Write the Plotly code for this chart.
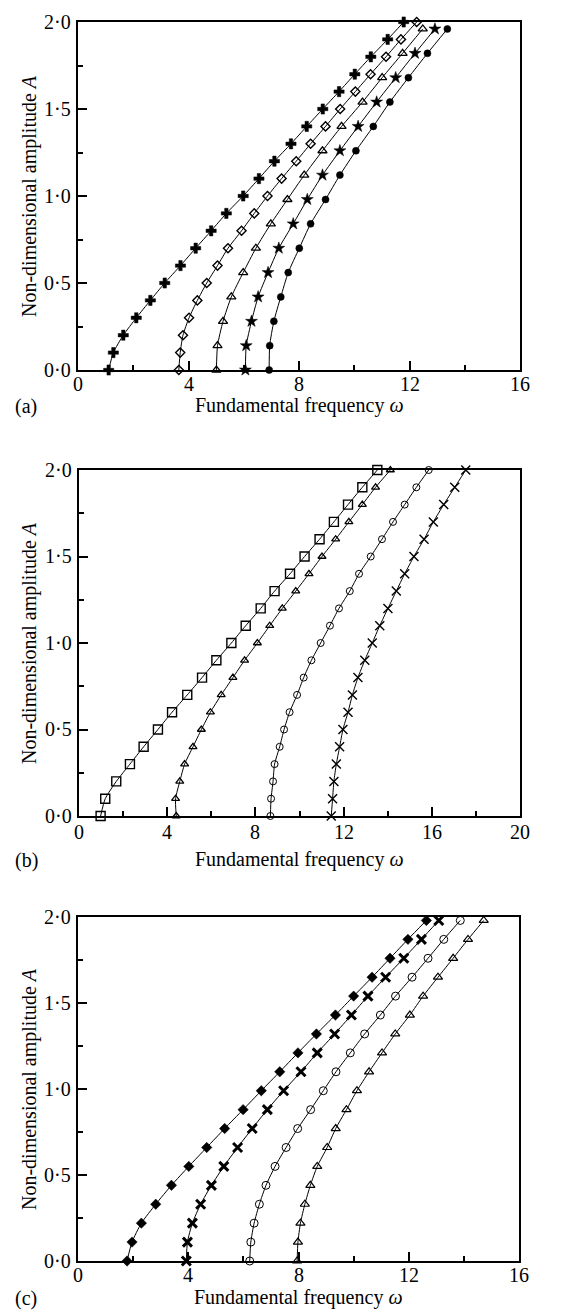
import plotly.graph_objects as go

# ---------------- Data ----------------
# Panel (a)
a_amp_01 = [0.0, 0.1, 0.2, 0.3, 0.4, 0.5, 0.6, 0.7, 0.8, 0.9, 1.0,
            1.1, 1.2, 1.3, 1.4, 1.5, 1.6, 1.7, 1.8, 1.9, 2.0]
a_amp_014 = [0.0, 0.14, 0.28, 0.42, 0.56, 0.70, 0.84, 0.98, 1.12,
             1.26, 1.40, 1.54, 1.68, 1.82, 1.96]
a_plus = [1.11, 1.28, 1.64, 2.11, 2.62, 3.14, 3.71, 4.26, 4.82, 5.37, 5.98,
          6.55, 7.11, 7.71, 8.28, 8.86, 9.45, 10.02, 10.60, 11.21, 11.79]
a_diamond = [3.65, 3.70, 3.80, 4.02, 4.32, 4.66, 5.05, 5.43, 5.92, 6.38, 6.86,
             7.37, 7.90, 8.42, 8.96, 9.49, 10.04, 10.59, 11.15, 11.69, 12.26]
a_triangle = [5.01, 5.05, 5.25, 5.55, 5.98, 6.44, 6.98, 7.58, 8.19, 8.85,
              9.54, 10.30, 11.01, 11.75, 12.48]
a_star = [6.06, 6.09, 6.28, 6.52, 6.88, 7.27, 7.79, 8.30, 8.85, 9.48,
          10.14, 10.81, 11.50, 12.20, 12.92]
a_circle = [6.92, 6.94, 7.09, 7.34, 7.61, 8.01, 8.42, 8.96, 9.48, 10.06,
            10.69, 11.29, 11.96, 12.65, 13.37]

# Panel (b)
b_amp = [0.0, 0.1, 0.2, 0.3, 0.4, 0.5, 0.6, 0.7, 0.8, 0.9, 1.0,
         1.1, 1.2, 1.3, 1.4, 1.5, 1.6, 1.7, 1.8, 1.9, 2.0]
b_square = [0.98, 1.19, 1.69, 2.31, 2.93, 3.58, 4.22, 4.91, 5.58, 6.23, 6.91,
            7.56, 8.24, 8.87, 9.57, 10.23, 10.91, 11.56, 12.20, 12.85, 13.53]
b_triangle = [4.41, 4.38, 4.57, 4.79, 5.17, 5.55, 5.96, 6.45, 6.98, 7.51, 8.09,
              8.65, 9.22, 9.83, 10.43, 11.02, 11.64, 12.24, 12.85, 13.45, 14.12]
b_circle = [8.68, 8.71, 8.80, 8.87, 9.10, 9.30, 9.55, 9.89, 10.19, 10.54, 10.96,
            11.38, 11.79, 12.28, 12.70, 13.23, 13.74, 14.24, 14.77, 15.30, 15.86]
b_cross = [11.44, 11.50, 11.56, 11.67, 11.82, 11.97, 12.20, 12.40, 12.65, 12.96,
           13.30, 13.64, 14.01, 14.39, 14.77, 15.19, 15.65, 16.07, 16.54, 17.04, 17.54]

# Panel (c)
c_amp = [0.0, 0.11, 0.22, 0.33, 0.44, 0.55, 0.66, 0.77, 0.88, 0.99,
         1.10, 1.21, 1.32, 1.43, 1.54, 1.65, 1.76, 1.87, 1.98]
c_diamond = [1.78, 1.96, 2.30, 2.82, 3.39, 4.02, 4.67, 5.32, 5.99, 6.65,
             7.32, 7.98, 8.65, 9.34, 10.00, 10.67, 11.32, 11.97, 12.64]
c_cross = [3.93, 3.97, 4.15, 4.45, 4.84, 5.29, 5.79, 6.32, 6.87, 7.46,
           8.09, 8.68, 9.31, 9.92, 10.52, 11.16, 11.82, 12.46, 13.09]
c_circle = [6.23, 6.27, 6.39, 6.58, 6.82, 7.15, 7.55, 7.97, 8.44, 8.90,
            9.36, 9.88, 10.40, 10.97, 11.52, 12.12, 12.70, 13.27, 13.87]
c_triangle = [7.95, 7.98, 8.07, 8.23, 8.43, 8.68, 9.04, 9.35, 9.74, 10.12,
              10.56, 11.03, 11.51, 12.04, 12.52, 13.06, 13.61, 14.15, 14.72]

y_tickvals = [0, 0.5, 1.0, 1.5, 2.0]
y_ticktext = ["0·0", "0·5", "1·0", "1·5", "2·0"]
xa_ticks = [0, 4, 8, 12, 16]
xb_ticks = [0, 4, 8, 12, 16, 20]
panel_labels = ["(a)", "(b)", "(c)"]
x_title = "Fundamental frequency <i>ω</i>"
y_title = "Non-dimensional amplitude <i>A</i>"

# ---------------- Figure ----------------
W, H = 562, 1312
FONT = "Liberation Serif"
TFONT = dict(family=FONT, size=20, color="black")
fig = go.Figure()


def add_series(x, y, xa, ya, symbol, size, lw=1.3):
    marker = dict(symbol=symbol, size=size, color="black",
                  line=dict(color="black", width=lw))
    fig.add_trace(go.Scatter(
        x=x, y=y, xaxis=xa, yaxis=ya, mode="lines+markers",
        line=dict(color="black", width=1, shape="spline", smoothing=0.6),
        marker=marker, cliponaxis=False, showlegend=False))


# (a)
add_series(a_plus, a_amp_01, "x", "y", "cross", 8.5, lw=0.5)
add_series(a_diamond, a_amp_01, "x", "y", "diamond-open", 7, lw=1.4)
add_series(a_triangle, a_amp_014, "x", "y", "triangle-up-open", 8, lw=1.3)
add_series(a_star, a_amp_014, "x", "y", "star", 9, lw=0.5)
add_series(a_circle, a_amp_014, "x", "y", "circle", 7, lw=0.5)
# (b)
add_series(b_square, b_amp, "x2", "y2", "square-open", 9, lw=1.4)
add_series(b_triangle, b_amp, "x2", "y2", "triangle-up-open", 7, lw=1.3)
add_series(b_circle, b_amp, "x2", "y2", "circle-open", 7, lw=1.0)
add_series(b_cross, b_amp, "x2", "y2", "x-thin-open", 9, lw=1.4)
# (c)
add_series(c_diamond, c_amp, "x3", "y3", "diamond", 8, lw=0.5)
add_series(c_cross, c_amp, "x3", "y3", "x-thin-open", 9, lw=3)
add_series(c_circle, c_amp, "x3", "y3", "circle-open", 8, lw=1.0)
add_series(c_triangle, c_amp, "x3", "y3", "triangle-up-open", 8, lw=1.2)

# panel pixel boxes: (left, right, top, bottom)
boxes = [(70, 512, 14, 362), (71, 512, 462, 808), (70, 511, 909, 1253)]
xranges = [[0, 16], [0, 20], [0, 16]]
xticks = [xa_ticks, xb_ticks, xa_ticks]
title_y = [397, 851, 1289]
xtick_gap = [14, 16, 14]

axis_common = dict(showline=True, linecolor="black", linewidth=2, mirror=True,
                   ticks="inside", tickcolor="black", tickwidth=2,
                   showgrid=False, zeroline=False, showticklabels=False)

layout = dict(width=W, height=H, paper_bgcolor="white", plot_bgcolor="white",
              margin=dict(l=0, r=0, t=0, b=0, autoexpand=False),
              showlegend=False, font=dict(family=FONT, color="black"))
annotations = []
for i, (l, r, t, b) in enumerate(boxes):
    sfx = "" if i == 0 else str(i + 1)
    xd = [l / W, r / W]
    yd = [1 - b / H, 1 - t / H]
    xv = xticks[i]
    minor_x = [v + (xv[1] - xv[0]) / 2 for v in xv[:-1]]
    layout["xaxis" + sfx] = dict(
        axis_common, domain=xd, range=xranges[i], anchor="y" + sfx,
        tickmode="array", tickvals=xv, ticklen=9,
        minor=dict(ticks="inside", tickmode="array", tickvals=minor_x,
                   ticklen=5, tickwidth=2, tickcolor="black"))
    layout["yaxis" + sfx] = dict(
        axis_common, domain=yd, range=[0, 2], anchor="x" + sfx,
        tickmode="array", tickvals=y_tickvals, ticklen=9,
        minor=dict(ticks="inside", tickmode="array",
                   tickvals=[0.25, 0.75, 1.25, 1.75],
                   ticklen=5, tickwidth=2, tickcolor="black"))
    xref = "x" + sfx
    yref = "y" + sfx
    # x tick labels (data x, pixel y)
    for v in xv:
        annotations.append(dict(
            text=str(v), x=v, xref=xref, y=1 - (b + xtick_gap[i]) / H,
            yref="paper", showarrow=False, xanchor="center",
            yanchor="middle", font=TFONT))
    # y tick labels
    for v, s in zip(y_tickvals, y_ticktext):
        annotations.append(dict(
            text=s, x=(l - 5) / W, xref="paper", y=v, yref=yref,
            showarrow=False, xanchor="right", yanchor="middle", font=TFONT))
    annotations.append(dict(
        text=x_title, x=(l + r) / 2 / W, y=1 - title_y[i] / H,
        xref="paper", yref="paper", showarrow=False,
        xanchor="center", yanchor="middle", font=TFONT))
    annotations.append(dict(
        text=panel_labels[i], x=18 / W, y=1 - (title_y[i] + 1) / H,
        xref="paper", yref="paper", showarrow=False,
        xanchor="center", yanchor="middle", font=TFONT))
    annotations.append(dict(
        text=y_title, x=21 / W, y=1 - (t + b) / 2 / H,
        xref="paper", yref="paper", showarrow=False, textangle=-90,
        xanchor="center", yanchor="middle", font=TFONT))

layout["annotations"] = annotations
fig.update_layout(**layout)
fig.write_html("out.html")
